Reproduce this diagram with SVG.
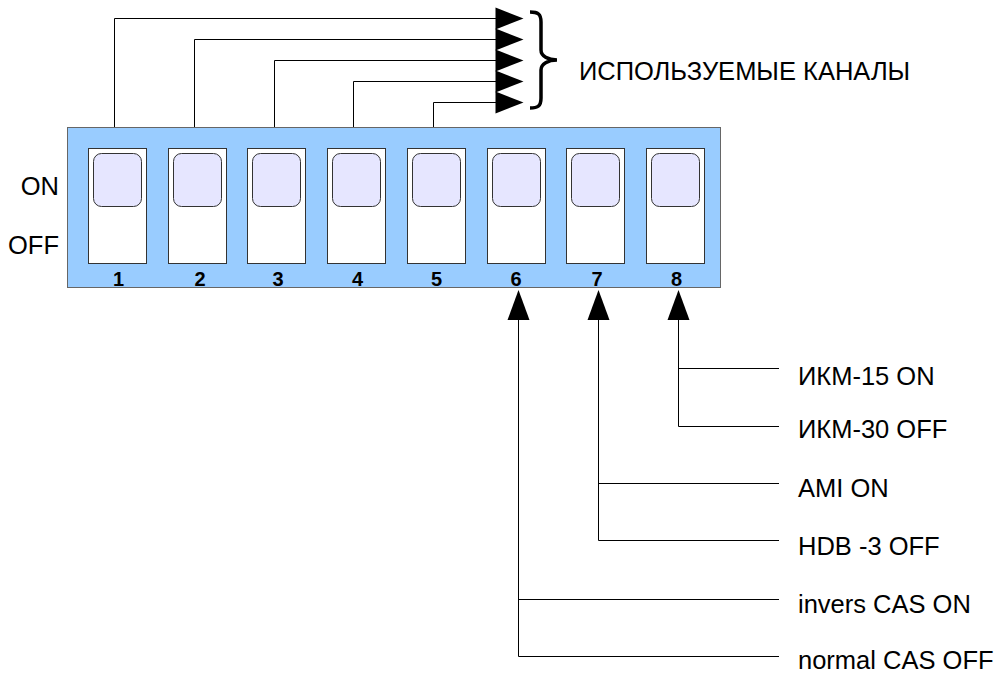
<svg xmlns="http://www.w3.org/2000/svg" width="1001" height="680" viewBox="0 0 1001 680">
<style>
.lbl{font-family:"Liberation Sans",Arial,sans-serif;font-size:25.5px;fill:#000}
.num{font-family:"Liberation Sans",Arial,sans-serif;font-size:20px;font-weight:bold;fill:#000;text-anchor:middle}
.sw{fill:#fff;stroke:#333;stroke-width:1}
.knob{fill:#e6e6ff;stroke:#333;stroke-width:1}
.ln{fill:none;stroke:#000;stroke-width:1}
.ah{fill:#000;stroke:none}
</style>
<defs>
<polygon id="arR" class="ah" points="0,0 -28,-11 -28,11"/>
<polygon id="arU" class="ah" points="0,0 -11,30 11,30"/>
</defs>
<rect width="1001" height="680" fill="#fff"/>
<g id="connectors">
<path class="ln" d="M114.5 127V18.5H497"/>
<path class="ln" d="M194.5 127V39.5H497"/>
<path class="ln" d="M274.5 127V60.5H497"/>
<path class="ln" d="M353.5 127V81.5H497"/>
<path class="ln" d="M433.5 127V102.5H497"/>
<use href="#arR" x="523.5" y="18.5"/>
<use href="#arR" x="523.5" y="39.5"/>
<use href="#arR" x="523.5" y="60.5"/>
<use href="#arR" x="523.5" y="81.5"/>
<use href="#arR" x="523.5" y="102.5"/>
<path class="ln" d="M518.5 318V656.5H779"/>
<path class="ln" d="M518.5 599.5H779"/>
<path class="ln" d="M598.5 318V540.5H779"/>
<path class="ln" d="M598.5 483.5H779"/>
<path class="ln" d="M678.5 318V426.5H779"/>
<path class="ln" d="M678.5 368.5H779"/>
<use href="#arU" x="518.5" y="290"/>
<use href="#arU" x="598.5" y="290"/>
<use href="#arU" x="678.5" y="290"/>
</g>
<g id="brace">
<path d="M530 12C538 12 541 14 541 22L541 50C541 56 548 60 557 60C548 60 541 64 541 70L541 98C541 106 538 108 530 108" fill="none" stroke="#000" stroke-width="3.5"/>
<text class="lbl" x="579" y="80">ИСПОЛЬЗУЕМЫЕ КАНАЛЫ</text>
</g>
<g id="dip">
<rect x="67.5" y="127.5" width="653" height="160" fill="#99ccff" stroke="#666" stroke-width="1"/>
<g id="sw1"><rect class="sw" x="88.5" y="148.5" width="58" height="115"/><rect class="knob" x="93.5" y="153.5" width="48" height="53" rx="8"/><text class="num" x="118.5" y="286">1</text></g>
<g id="sw2"><rect class="sw" x="168.5" y="148.5" width="58" height="115"/><rect class="knob" x="173.5" y="153.5" width="48" height="53" rx="8"/><text class="num" x="200" y="286">2</text></g>
<g id="sw3"><rect class="sw" x="247.5" y="148.5" width="58" height="115"/><rect class="knob" x="252.5" y="153.5" width="48" height="53" rx="8"/><text class="num" x="278" y="286">3</text></g>
<g id="sw4"><rect class="sw" x="327.5" y="148.5" width="58" height="115"/><rect class="knob" x="332.5" y="153.5" width="48" height="53" rx="8"/><text class="num" x="357.5" y="286">4</text></g>
<g id="sw5"><rect class="sw" x="407.5" y="148.5" width="58" height="115"/><rect class="knob" x="412.5" y="153.5" width="48" height="53" rx="8"/><text class="num" x="436.5" y="286">5</text></g>
<g id="sw6"><rect class="sw" x="487.5" y="148.5" width="58" height="115"/><rect class="knob" x="492.5" y="153.5" width="48" height="53" rx="8"/><text class="num" x="516" y="286">6</text></g>
<g id="sw7"><rect class="sw" x="566.5" y="148.5" width="58" height="115"/><rect class="knob" x="571.5" y="153.5" width="48" height="53" rx="8"/><text class="num" x="597" y="286">7</text></g>
<g id="sw8"><rect class="sw" x="646.5" y="148.5" width="58" height="115"/><rect class="knob" x="651.5" y="153.5" width="48" height="53" rx="8"/><text class="num" x="676.5" y="286">8</text></g>
</g>
<g id="label-on"><text class="lbl" x="59" y="195" text-anchor="end">ON</text></g>
<g id="label-off"><text class="lbl" x="59" y="254" text-anchor="end">OFF</text></g>
<g id="opt-ikm15"><text class="lbl" x="798" y="385">ИКМ-15 ON</text></g>
<g id="opt-ikm30"><text class="lbl" x="798" y="438">ИКМ-30 OFF</text></g>
<g id="opt-ami"><text class="lbl" x="798" y="497">AMI ON</text></g>
<g id="opt-hdb"><text class="lbl" x="798" y="555">HDB -3 OFF</text></g>
<g id="opt-invers"><text class="lbl" x="798" y="613">invers CAS ON</text></g>
<g id="opt-normal"><text class="lbl" x="798" y="669">normal CAS OFF</text></g>
</svg>
